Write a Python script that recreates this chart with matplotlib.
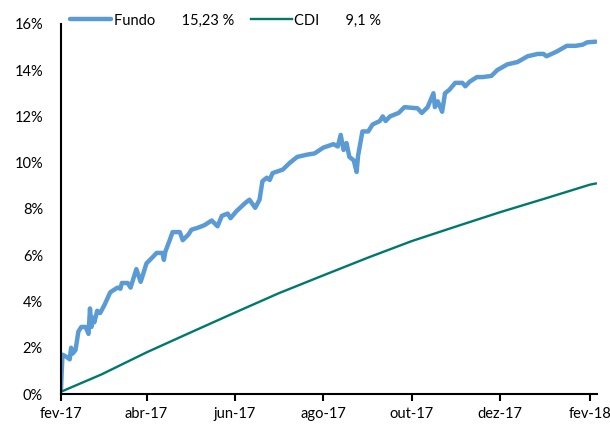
import pandas as pd
import matplotlib.pyplot as plt
import matplotlib.dates as mdates
from matplotlib.ticker import FuncFormatter

plt.rcParams['font.family'] = ['Lato', 'DejaVu Sans']

inicio = pd.Timestamp('2017-02-01')

# Fundo: dias desde 01/02/2017 e retorno acumulado (%)
fundo_dias = [0, 1, 4, 6, 7, 8, 10, 12, 14, 17, 19, 20, 21, 22, 23, 25, 27, 30, 34, 39,
              41, 42, 46, 48, 50, 52, 55, 59, 63, 66, 70, 71, 72, 75, 77, 82, 84, 88, 90, 95,
              99, 104, 108, 111, 115, 117, 121, 127, 130, 134, 137, 139, 142, 144, 146, 153, 158, 163, 170, 175,
              181, 188, 191, 193, 195, 197, 199, 202, 204, 205, 208, 212, 215, 220, 222, 224, 227, 233, 237, 246,
              249, 253, 257, 258, 260, 263, 265, 268, 272, 277, 279, 282, 287, 291, 297, 301, 308, 315, 322, 329,
              333, 335, 342, 349, 355, 360, 363, 369]
fundo_ret = [0.2, 1.7, 1.6, 1.5, 2.0, 1.75, 1.9, 2.7, 2.9, 2.9, 2.6, 3.7, 2.9, 3.3, 3.1, 3.6, 3.5, 3.85, 4.4, 4.6,
             4.55, 4.8, 4.8, 4.6, 5.0, 5.4, 4.85, 5.65, 5.9, 6.1, 6.1, 5.8, 6.15, 6.65, 7.0, 7.0, 6.65, 6.9, 7.1, 7.2,
             7.3, 7.5, 7.25, 7.7, 7.8, 7.6, 7.9, 8.25, 8.4, 8.05, 8.4, 9.2, 9.35, 9.25, 9.55, 9.7, 10.0, 10.25, 10.35, 10.4,
             10.65, 10.8, 10.7, 11.2, 10.55, 10.85, 10.25, 10.1, 9.6, 10.3, 11.35, 11.35, 11.65, 11.8, 12.0, 11.8, 12.0, 12.15, 12.4, 12.35,
             12.15, 12.4, 13.0, 12.4, 12.65, 12.2, 13.0, 13.15, 13.45, 13.45, 13.3, 13.5, 13.7, 13.7, 13.75, 14.0, 14.25, 14.35, 14.6, 14.7,
             14.7, 14.6, 14.8, 15.05, 15.05, 15.1, 15.2, 15.23]

# CDI acumulado (%)
cdi_dias = [0, 28, 59, 89, 120, 150, 181, 212, 242, 273, 303, 334, 365, 369]
cdi_ret = [0.1, 0.85, 1.8, 2.65, 3.52, 4.35, 5.13, 5.9, 6.61, 7.25, 7.86, 8.45, 9.05, 9.1]

rotulos = ['Fundo       15,23 %', 'CDI       9,1 %']

fundo_datas = inicio + pd.to_timedelta(fundo_dias, unit='D')
cdi_datas = inicio + pd.to_timedelta(cdi_dias, unit='D')

fig = plt.figure(figsize=(6.1, 4.26), dpi=100)
ax = fig.add_axes([0.1, 0.075, 0.879, 0.869])

ax.plot(fundo_datas, fundo_ret, color='#5B9BD5', linewidth=3.2, label=rotulos[0],
        solid_joinstyle='round', solid_capstyle='round')
ax.plot(cdi_datas, cdi_ret, color='#00796B', linewidth=1.7, label=rotulos[1])

ax.set_ylim(0, 16)
ax.set_yticks(range(0, 17, 2))
ax.yaxis.set_major_formatter(FuncFormatter(lambda v, p: '%d%%' % v))
ax.set_xlim(inicio, inicio + pd.Timedelta(days=370))

meses = ['jan', 'fev', 'mar', 'abr', 'mai', 'jun', 'jul', 'ago', 'set', 'out', 'nov', 'dez']
ax.xaxis.set_major_locator(mdates.MonthLocator(bymonth=[2, 4, 6, 8, 10, 12]))
ax.xaxis.set_major_formatter(FuncFormatter(
    lambda v, p: '%s-%s' % (meses[mdates.num2date(v).month - 1], mdates.num2date(v).strftime('%y'))))

for s in ['top', 'right']:
    ax.spines[s].set_visible(False)
for s in ['left', 'bottom']:
    ax.spines[s].set_linewidth(1.5)
ax.tick_params(axis='y', length=0, labelsize=10.5, pad=13)
ax.tick_params(axis='x', length=5, width=1.5, direction='out', labelsize=10.5, pad=4)

ax.legend(loc='center left', bbox_to_anchor=(0.106, 0.952), bbox_transform=fig.transFigure,
          ncol=2, frameon=False, fontsize=10.5, handlelength=2.8, handletextpad=0.15,
          columnspacing=1.2, borderaxespad=0)

fig.savefig('out.png', dpi=100)
